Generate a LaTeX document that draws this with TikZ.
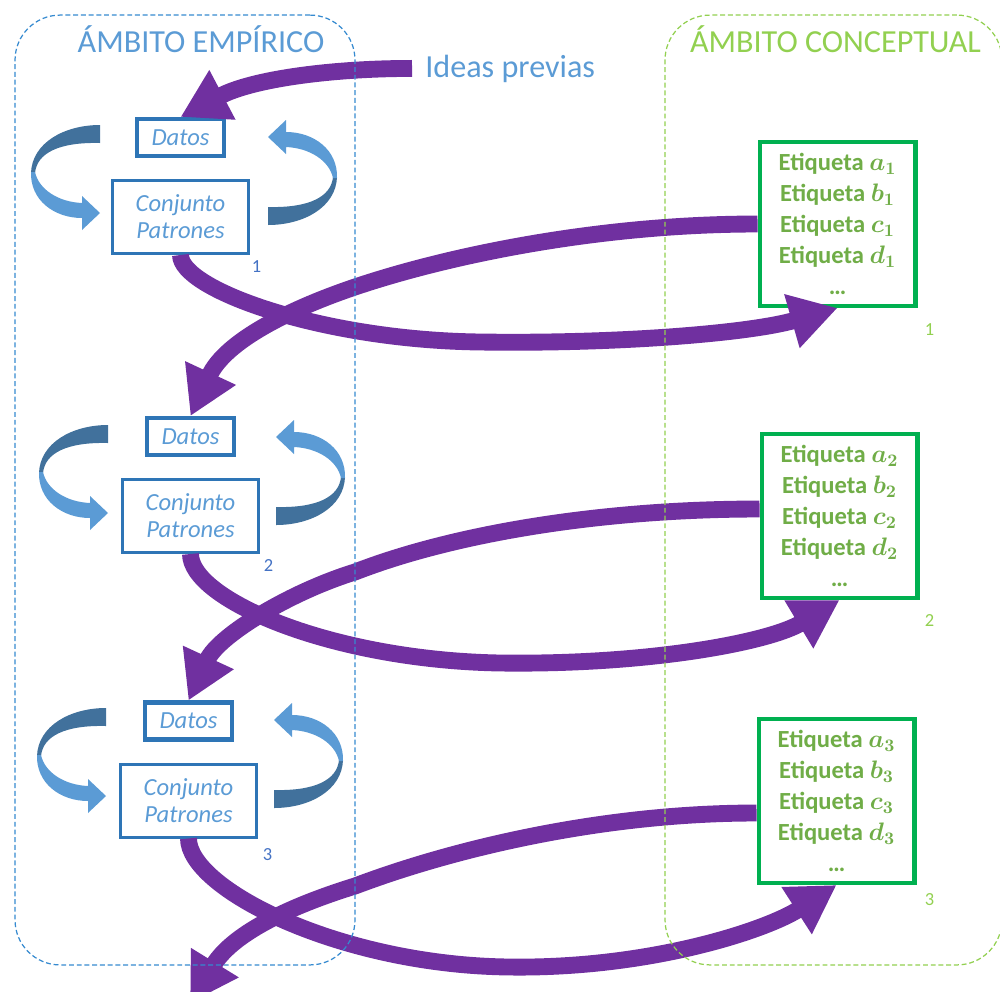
\documentclass[tikz,border=0pt]{standalone}
\usepackage{fontspec}
\setmainfont{Carlito}
\usetikzlibrary{positioning, arrows.meta}

\definecolor{azultit}{RGB}{91,155,213}
\definecolor{azulcaja}{RGB}{46,117,182}
\definecolor{azulnum}{RGB}{68,114,196}
\definecolor{azulraya}{RGB}{53,138,208}
\definecolor{azuloscuro}{RGB}{65,113,156}
\definecolor{azulclaro}{RGB}{91,155,213}
\definecolor{verdetit}{RGB}{146,208,80}
\definecolor{verdetexto}{RGB}{112,173,71}
\definecolor{verdecaja}{RGB}{0,176,80}
\definecolor{morado}{RGB}{112,48,160}

\begin{document}
\begin{tikzpicture}[x=0.02cm, y=-0.02cm,
    ambito/.style={dash pattern=on 2.8pt off 1.6pt, line width=0.7pt, rounded corners=0.9cm,
      minimum height=19cm},
    titulo/.style={font=\fontsize{18.3}{22}\selectfont},
    datos/.style={draw=azulcaja, line width=2.3pt, minimum width=1.74cm, minimum height=0.74cm,
      inner sep=0pt, text=azultit, font=\fontsize{14}{16}\selectfont\itshape},
    conj/.style={draw=azulcaja, line width=1.7pt, minimum width=2.74cm, minimum height=1.46cm,
      inner sep=0pt, align=center, text=azultit, font=\fontsize{14}{15.5}\selectfont\itshape},
    etiq/.style={draw=verdecaja, line width=2.3pt, minimum width=3.12cm, minimum height=3.28cm,
      inner sep=0pt, align=center, text=verdetexto,
      font=\fontsize{14}{17.6}\selectfont\bfseries\boldmath},
    numaz/.style={text=azulnum, font=\fontsize{10.5}{12}\selectfont, inner sep=0pt},
    numve/.style={text=verdetit, font=\fontsize{10.5}{12}\selectfont, inner sep=0pt},
    flecha/.style={draw=morado, line width=9.6pt, -{Triangle[length=27pt, width=30pt]}},
    giro/.pic={
      \fill[azuloscuro] (-84,-50) .. controls (-120,-50) and (-152,-32) .. (-153,-2)
        -- (-149,-2) .. controls (-147,-22) and (-125,-33) .. (-84,-32) -- cycle;
      \fill[azulclaro] (-153,-3) .. controls (-154,25) and (-130,43) .. (-102,43)
        -- (-102,55) -- (-84,38) -- (-102,21) -- (-102,28)
        .. controls (-125,27) and (-145,15) .. (-149,-3) -- cycle;
    }]

  \useasboundingbox (0,0) rectangle (1000,991);
  \clip (0,0) rectangle (1000,991);

  % ciclos del ambito empirico
  \pic at (184,175) {giro};
  \pic[rotate=180] at (184,175) {giro};
  \node[datos] (dat1) at (180.5,137.5) {Datos};
  \node[conj, below=0.42cm of dat1] (pat1) {Conjunto\\Patrones};
  \node[numaz] (na1) at ([shift={(6,12)}]pat1.south east) {1};

  \pic at (192,475) {giro};
  \pic[rotate=180] at (192,475) {giro};
  \node[datos] (dat2) at (190.5,436.5) {Datos};
  \node[conj, below=0.42cm of dat2] (pat2) {Conjunto\\Patrones};
  \node[numaz] (na2) at ([shift={(8,12)}]pat2.south east) {2};

  \pic at (190,758) {giro};
  \pic[rotate=180] at (190,758) {giro};
  \node[datos] (dat3) at (188.5,721) {Datos};
  \node[conj, below=0.42cm of dat3] (pat3) {Conjunto\\Patrones};
  \node[numaz] (na3) at ([shift={(9,16)}]pat3.south east) {3};

  % etiquetas del ambito conceptual
  \node[etiq] (eti1) at (837.5,224) {Etiqueta $a_1$\\Etiqueta $b_1$\\Etiqueta $c_1$\\Etiqueta $d_1$\\…};
  \node[numve] (nv1) at ([shift={(12,22)}]eti1.south east) {1};
  \node[etiq] (eti2) at (839.5,516) {Etiqueta $a_2$\\Etiqueta $b_2$\\Etiqueta $c_2$\\Etiqueta $d_2$\\…};
  \node[numve] (nv2) at ([shift={(10,20)}]eti2.south east) {2};
  \node[etiq] (eti3) at (836.5,801) {Etiqueta $a_3$\\Etiqueta $b_3$\\Etiqueta $c_3$\\Etiqueta $d_3$\\…};
  \node[numve] (nv3) at ([shift={(13,15)}]eti3.south east) {3};

  \node[titulo, text=azultit, anchor=base west, inner xsep=0.26cm] (ideas) at (412,77) {Ideas previas};

  \coordinate (v1) at (480,342);
  \coordinate (w1) at (355,287);
  \coordinate (v2) at (500,663);
  \coordinate (w2) at (355,572);
  \coordinate (v3) at (509,967);
  \coordinate (w3) at (355,886);
  \coordinate (fin) at (190,1003);

  \draw[flecha] (ideas.west) .. controls +(-80,0) and +(72,-38) .. (dat1.north);

  \draw[flecha] (pat1.south) .. controls +(0,34) and +(-160,-2) .. (v1)
    .. controls +(140,2) and +(-87,25) .. (eti1.south);
  \draw[flecha] (eti1.west) .. controls +(-157,0) and +(95,-32) .. (w1)
    .. controls +(-65,22) and +(35,-75) .. (dat2.north);

  \draw[flecha] (pat2.south) .. controls +(0,45) and +(-170,-3) .. (v2)
    .. controls +(150,2) and +(-70,42) .. (eti2.south);
  \draw[flecha] ([yshift=0.14cm]eti2.west) .. controls +(-163,0) and +(95,-37) .. (w2)
    .. controls +(-65,20) and +(30,-65) .. (dat3.north);

  \draw[flecha] (pat3.south) .. controls +(0,50) and +(-170,-2) .. (v3)
    .. controls +(141,2) and +(-70,45) .. (eti3.south);
  \draw[flecha] ([yshift=-0.24cm]eti3.west) .. controls +(-157,0) and +(95,-36) .. (w3)
    .. controls +(-55,17) and +(45,-73) .. (fin);

  % ambitos
  \node[ambito, draw=azulraya, minimum width=6.8cm] (emp) at (185,490) {};
  \node[ambito, draw=verdetit, minimum width=6.74cm] (con) at (833.5,490) {};
  \node[titulo, text=azultit, anchor=base] (temp) at (201,52) {ÁMBITO EMPÍRICO};
  \node[titulo, text=verdetit, anchor=base] (tcon) at (835.5,52) {ÁMBITO CONCEPTUAL};

\end{tikzpicture}
\end{document}
